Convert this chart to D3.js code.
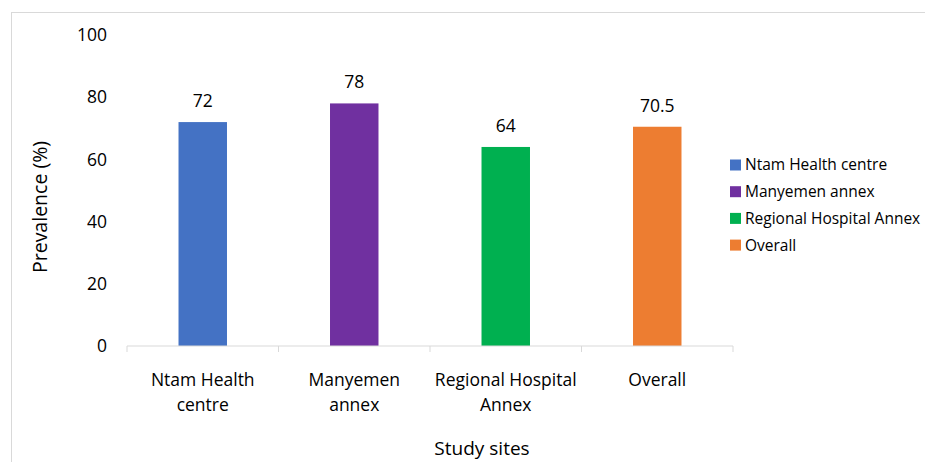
<!DOCTYPE html>
<html>
<head>
<meta charset="utf-8">
<script src="https://cdn.jsdelivr.net/npm/d3@7"></script>
<style>
    body { margin: 0; background: #fff; }
    text { font-family: "Open Sans", Lato, sans-serif; fill: #000; }
</style>
</head>
<body>
<svg id="chart" width="925" height="462"></svg>
<script>

var sites = [ 'Ntam Health centre', 'Manyemen annex', 'Regional Hospital Annex', 'Overall' ];
var siteLines = [ [ 'Ntam Health', 'centre' ], [ 'Manyemen', 'annex' ], [ 'Regional Hospital', 'Annex' ], [ 'Overall' ] ];
var prevalence = [ 72, 78, 64, 70.5 ];
var yTicks = [ 0, 20, 40, 60, 80, 100 ];
var colors = [ '#4472c4', '#7030a0', '#00b050', '#ed7d31' ];

var svg = d3.select('#chart');

// chart frame
svg.append('rect')
    .attr('x', 11.5)
    .attr('y', 12.5)
    .attr('width', 940)
    .attr('height', 470)
    .style('fill', 'none')
    .style('stroke', '#d9d9d9');

var x = d3.scaleBand()
    .domain( sites )
    .range([ 127, 733 ]);

var y = d3.scaleLinear()
    .domain([ 0, 100 ])
    .range([ 346, 35 ]);

var barWidth = x.bandwidth() * 0.32;

// y tick labels
svg.selectAll('.ytick')
    .data( yTicks )
    .enter().append('text')
    .attr('class', 'ytick')
    .attr('x', 107)
    .attr('y', function ( d ) { return y( d ) })
    .attr('dy', '0.35em')
    .attr('text-anchor', 'end')
    .style('font-size', '17.5px')
    .text( function ( d ) { return d });

// bars
svg.selectAll('.bar')
    .data( prevalence )
    .enter().append('rect')
    .attr('class', 'bar')
    .attr('x', function ( d, i ) { return x( sites[i] ) + ( x.bandwidth() - barWidth ) / 2 })
    .attr('y', function ( d ) { return y( d ) })
    .attr('width', barWidth)
    .attr('height', function ( d ) { return y( 0 ) - y( d ) })
    .style('fill', function ( d, i ) { return colors[i] });

// value labels
svg.selectAll('.val')
    .data( prevalence )
    .enter().append('text')
    .attr('class', 'val')
    .attr('x', function ( d, i ) { return x( sites[i] ) + x.bandwidth() / 2 })
    .attr('y', function ( d ) { return y( d ) - 15 })
    .attr('text-anchor', 'middle')
    .style('font-size', '17.5px')
    .text( function ( d ) { return d });

// x axis line + ticks
var axis = svg.append('g').attr('transform', 'translate(0,' + y( 0 ) + ')');

axis.append('line')
    .attr('x1', 127)
    .attr('x2', 733)
    .style('stroke', '#d9d9d9')
    .style('stroke-width', 1);

var bounds = sites.map( function ( s ) { return x( s ) }).concat([ 733 ]);

axis.selectAll('.tick')
    .data( bounds )
    .enter().append('line')
    .attr('x1', function ( d ) { return d })
    .attr('x2', function ( d ) { return d })
    .attr('y1', 0)
    .attr('y2', 6)
    .style('stroke', '#d9d9d9');

// category labels
sites.forEach( function ( s, i ) {

    var t = svg.append('text')
        .attr('x', x( s ) + x.bandwidth() / 2)
        .attr('y', 386)
        .attr('text-anchor', 'middle')
        .style('font-size', '17.5px');

    siteLines[i].forEach( function ( line, j ) {

        t.append('tspan')
            .attr('x', x( s ) + x.bandwidth() / 2)
            .attr('dy', j ? 25 : 0)
            .text( line );

    });

});

// axis titles
svg.append('text')
    .attr('x', 482)
    .attr('y', 455)
    .attr('text-anchor', 'middle')
    .style('font-size', '19px')
    .text('Study sites');

svg.append('text')
    .attr('transform', 'translate(47,207) rotate(-90)')
    .attr('text-anchor', 'middle')
    .style('font-size', '19.5px')
    .text('Prevalence (%)');

// legend
var legend = svg.selectAll('.legend')
    .data( sites )
    .enter().append('g')
    .attr('class', 'legend')
    .attr('transform', function ( d, i ) { return 'translate(730,' + ( 165 + i * 26.7 ) + ')' });

legend.append('rect')
    .attr('x', 0)
    .attr('y', -5.5)
    .attr('width', 11)
    .attr('height', 11)
    .style('fill', function ( d, i ) { return colors[i] });

legend.append('text')
    .attr('x', 15)
    .attr('dy', '0.35em')
    .style('font-size', '15.5px')
    .text( function ( d ) { return d });

</script>
</body>
</html>
